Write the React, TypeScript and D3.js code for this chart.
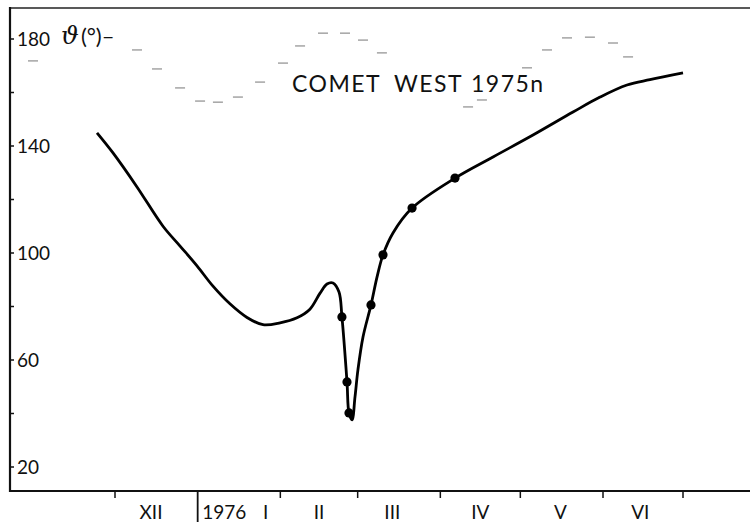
import React from 'react';
import * as d3 from 'd3';

// days counted from 1 Dec 1975
const curveDays = [-6.75, -0.75, 8.25, 18, 24.4, 30.75, 36.75, 43.1, 49.5, 55.5, 61.9, 68.25, 73.1, 76.9, 79.5, 81.75, 84, 85.1, 87, 87.75, 88.9, 90, 91.1, 93, 96, 98.25, 100.5, 104.25, 111.4, 127.5, 141.75, 156.75, 171.75, 181.9, 192, 200.6, 213];
const curveTheta = [144.9, 137.4, 124.7, 110, 102.6, 95.2, 87.6, 81, 75.9, 73.2, 73.9, 75.8, 79, 85, 88.4, 88.8, 85.4, 76.1, 51.8, 40.2, 37.6, 46.2, 56.3, 68.6, 80.6, 91, 99.3, 107.5, 116.8, 128, 135.9, 144.1, 152.7, 158.3, 162.8, 164.8, 167.3];

const obsDays = [85.1, 87, 87.75, 96, 100.5, 111.4, 127.5];
const obsTheta = [76.1, 51.8, 40.2, 80.6, 99.3, 116.8, 128];

// faint dashed trace at the top
const traceDays = [-30.75, 8.25, 15.75, 24.4, 31.9, 38.6, 46.1, 54.4, 63, 69.4, 78, 86.25, 93, 100.1, 132.4, 137.6, 154.5, 162, 169.5, 178.1, 186.75, 192.4];
const traceTheta = [171.8, 175.9, 168.8, 161.7, 156.8, 156.4, 158.3, 163.9, 171, 177.4, 182.2, 182.2, 179.6, 174.8, 154.6, 157.2, 169.2, 175.9, 180.4, 180.7, 178.5, 173.3];

const yMajor = [180, 140, 100, 60, 20];
const yMinor = [160, 120, 80, 40];

const monthLabels = ['XII', 'I', 'II', 'III', 'IV', 'V', 'VI'];
const monthLabelDays = [13.5, 56.5, 76.5, 104, 137, 167, 197];
const yearLabel = '1976';
const yearLabelDay = 41;

const BASE = Date.UTC(1975, 11, 1);
const toDate = (d: number) => new Date(BASE + d * 864e5);

const left = 10;
const right = 750;
const top = 8;
const bottom = 491;

export default function App() {
  const x = d3.scaleUtc().domain([toDate(0), new Date(Date.UTC(1976, 6, 1))]).range([115, 683]);
  const y = d3.scaleLinear().domain([20, 180]).range([467, 39]);

  const pts = curveDays.map((d, i) => [x(toDate(d)), y(curveTheta[i])] as [number, number]);
  const line = d3.line().curve(d3.curveCatmullRom.alpha(0.5))(pts) || '';

  const monthTicks = d3.utcMonth.range(toDate(0), new Date(Date.UTC(1976, 6, 2)));
  const font = 'Lato, "Open Sans", sans-serif';

  return (
    <svg width={750} height={524} style={{ position: 'absolute', left: 0, top: 0, background: '#fff' }}>
      <rect width={750} height={524} fill="#fff" />
      {/* frame */}
      <line x1={left} x2={right} y1={top} y2={top} stroke="#222" strokeWidth={1.6} />
      <line x1={left} x2={left} y1={top - 1} y2={bottom + 1} stroke="#111" strokeWidth={2.2} />
      <line x1={left} x2={right} y1={bottom} y2={bottom} stroke="#111" strokeWidth={2} />

      {/* y axis */}
      {yMajor.concat(yMinor).map(v => (
        <line key={'yt' + v} x1={left} x2={left + 4} y1={y(v)} y2={y(v)} stroke="#111" strokeWidth={1.5} />
      ))}
      {yMajor.map(v => (
        <text key={'yl' + v} x={17} y={y(v)} dy="0.36em" fontFamily={font} fontSize={19} fill="#111">
          {v}
        </text>
      ))}

      {/* x axis */}
      {monthTicks.map(t => {
        const isYear = t.getUTCMonth() === 0;
        return (
          <line key={'xt' + t.getTime()} x1={x(t)} x2={x(t)} y1={bottom} y2={isYear ? 522 : bottom + 7} stroke="#111" strokeWidth={isYear ? 1.8 : 1.5} />
        );
      })}
      {monthLabels.map((m, i) => (
        <text key={'ml' + m} x={x(toDate(monthLabelDays[i]))} y={519} textAnchor="middle" fontFamily={font} fontSize={19} fill="#111">
          {m}
        </text>
      ))}
      <text x={x(toDate(yearLabelDay))} y={519} textAnchor="middle" fontFamily={font} fontSize={19} fill="#111">
        {yearLabel}
      </text>

      {/* faint trace */}
      {traceDays.map((d, i) => (
        <line key={'tr' + i} x1={x(toDate(d)) - 5} x2={x(toDate(d)) + 5} y1={y(traceTheta[i])} y2={y(traceTheta[i])} stroke="#777" strokeWidth={1} />
      ))}

      {/* labels */}
      <text x={61} y={44} fill="#111">
        <tspan fontFamily="DejaVu Serif" fontStyle="italic" fontSize={25}>ϑ</tspan>
        <tspan fontFamily={font} fontSize={22} dx={2}>(°)</tspan>
        <tspan fontFamily={font} fontSize={22}>–</tspan>
      </text>
      <text y={92} fontFamily={font} fontSize={23} fill="#111" letterSpacing={1.5}>
        <tspan x={292}>COMET</tspan>
        <tspan x={394}>WEST</tspan>
        <tspan x={471}>1975n</tspan>
      </text>

      {/* curve */}
      <path d={line} fill="none" stroke="#000" strokeWidth={2.8} strokeLinejoin="round" />
      {obsDays.map((d, i) => (
        <circle key={'ob' + i} cx={x(toDate(d))} cy={y(obsTheta[i])} r={4.6} fill="#000" />
      ))}
    </svg>
  );
}
